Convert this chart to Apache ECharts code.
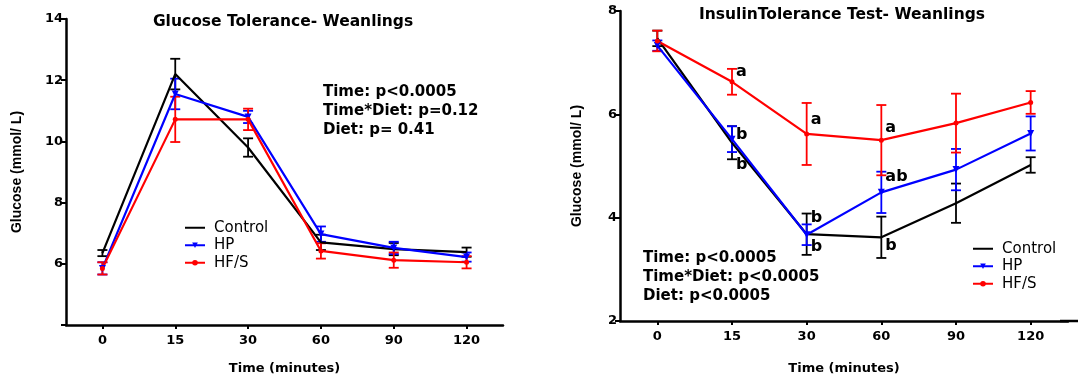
<!DOCTYPE html>
<html lang="en">
<head>
    <meta charset="UTF-8">
    <title>Glucose / Insulin tolerance - weanlings</title>
    <script src="https://cdn.jsdelivr.net/npm/echarts@6/dist/echarts.min.js"></script>
</head>
<body style="margin:0;display:flex;background:#fff;">

<div id="main1" style="width:540px;height:375px;"></div>
<div id="main2" style="width:538px;height:375px;"></div>

<script>
    // time points (minutes)
    const times = ['0', '15', '30', '60', '90', '120'];
    const groups = ['Control', 'HP', 'HF/S'];

    // glucose tolerance, mean and error
    const gttControl = [6.35, 12.2, 9.8, 6.7, 6.48, 6.38];
    const gttControlErr = [0.1, 0.5, 0.3, 0.25, 0.2, 0.15];
    const gttHP = [5.85, 11.55, 10.8, 6.97, 6.52, 6.22];
    const gttHPErr = [0.2, 0.5, 0.2, 0.25, 0.2, 0.15];
    const gttHFS = [5.85, 10.72, 10.72, 6.42, 6.12, 6.05];
    const gttHFSErr = [0.2, 0.74, 0.35, 0.25, 0.25, 0.2];

    // insulin tolerance, mean and error
    const ittControl = [7.47, 5.45, 3.68, 3.62, 4.28, 5.02];
    const ittControlErr = [0.15, 0.32, 0.4, 0.4, 0.38, 0.15];
    const ittHP = [7.33, 5.52, 3.67, 4.49, 4.93, 5.63];
    const ittHPErr = [0.1, 0.25, 0.2, 0.4, 0.4, 0.33];
    const ittHFS = [7.42, 6.63, 5.62, 5.5, 5.83, 6.23];
    const ittHFSErr = [0.2, 0.25, 0.6, 0.68, 0.57, 0.22];

    // significance letters: [time index, glucose, letter]
    const ittLetters = [
        [1, 6.82, 'a'], [2, 5.89, 'a'], [3, 5.74, 'a'],
        [1, 5.6, 'b'], [1, 5.02, 'b'], [3, 4.79, 'ab'],
        [2, 4.0, 'b'], [2, 3.44, 'b'], [3, 3.46, 'b']
    ];

    const gttStats = ['Time: p<0.0005', 'Time*Diet: p=0.12', 'Diet: p= 0.41'];
    const ittStats = ['Time: p<0.0005', 'Time*Diet: p<0.0005', 'Diet: p<0.0005'];

    const colors = ['#000000', '#0000ff', '#ff0000'];
    const FONT = '"DejaVu Sans", Arial, sans-serif';
    const FONT2 = '"Liberation Sans", Arial, sans-serif';

    function errData(mean, err) {
        return mean.map((m, i) => [i, m - err[i], m + err[i]]);
    }

    function errSeries(name, mean, err, color) {
        return {
            name: name + ' err',
            type: 'custom',
            data: errData(mean, err),
            z: 3,
            silent: true,
            renderItem: function (params, api) {
                const x = api.value(0);
                const lo = api.coord([x, api.value(1)]);
                const hi = api.coord([x, api.value(2)]);
                const w = 5;
                const st = {stroke: color, lineWidth: 1.8};
                return {
                    type: 'group',
                    children: [
                        {type: 'line', shape: {x1: lo[0], y1: lo[1], x2: hi[0], y2: hi[1]}, style: st},
                        {type: 'line', shape: {x1: lo[0] - w, y1: lo[1], x2: lo[0] + w, y2: lo[1]}, style: st},
                        {type: 'line', shape: {x1: hi[0] - w, y1: hi[1], x2: hi[0] + w, y2: hi[1]}, style: st}
                    ]
                };
            }
        };
    }

    function lineSeries(name, data, idx) {
        const sym = ['none', 'triangle', 'circle'][idx];
        const size = [0, 7, 5][idx];
        return {
            name: name,
            type: 'line',
            data: data,
            color: colors[idx],
            symbol: sym,
            symbolSize: size,
            symbolRotate: idx == 1 ? 180 : 0,
            showSymbol: idx != 0,
            lineStyle: {width: 2.2, color: colors[idx]},
            itemStyle: {color: colors[idx]},
            z: 4
        };
    }

    function baseOption(cfg) {
        return {
            animation: false,
            textStyle: {fontFamily: FONT},
            title: {
                text: cfg.title,
                left: cfg.titleX,
                top: cfg.titleY,
                textAlign: 'center',
                padding: 0,
                textStyle: {fontFamily: FONT, fontSize: 15.5, fontWeight: 'bold', color: '#000'}
            },
            legend: {
                data: [
                    {name: 'Control', itemStyle: {opacity: 0}},
                    {name: 'HP'},
                    {name: 'HF/S'}
                ],
                orient: 'vertical',
                left: cfg.legendX,
                top: cfg.legendY,
                padding: 0,
                itemWidth: 20,
                itemHeight: 7,
                itemGap: 0,
                textStyle: {fontFamily: FONT, fontSize: 15, lineHeight: 17.5, color: '#000', padding: [0, 0, 0, 4]}
            },
            grid: {
                left: cfg.grid[0], top: cfg.grid[1], width: cfg.grid[2], height: cfg.grid[3],
                outerBoundsMode: 'none'
            },
            xAxis: {
                type: 'category',
                data: times,
                boundaryGap: true,
                name: 'Time (minutes)',
                nameLocation: 'middle',
                nameGap: cfg.xNameGap,
                nameTextStyle: {fontFamily: FONT, fontSize: 13, fontWeight: 'bold', color: '#000'},
                axisLine: {lineStyle: {color: '#000', width: 2.5}},
                axisTick: {show: true, alignWithLabel: true, length: 4, lineStyle: {color: '#000', width: 2}},
                axisLabel: {fontFamily: FONT, fontSize: 13, fontWeight: 'bold', color: '#000', margin: 9},
                splitLine: {show: false}
            },
            yAxis: {
                type: 'value',
                min: cfg.yMin,
                max: cfg.yMax,
                interval: 2,
                name: 'Glucose (mmol/ L)',
                nameLocation: 'middle',
                nameGap: cfg.yNameGap,
                nameTextStyle: {fontFamily: FONT2, fontSize: 14, fontWeight: 'bold', color: '#000'},
                axisLine: {show: true, lineStyle: {color: '#000', width: 2.5}},
                axisTick: {show: true, length: 5, lineStyle: {color: '#000', width: 2}},
                axisLabel: {
                    fontFamily: FONT, fontSize: 13, fontWeight: 'bold', color: '#000', margin: 3,
                    formatter: v => (cfg.hideMin && v == cfg.yMin) ? '' : v
                },
                splitLine: {show: false}
            },
            graphic: [{
                type: 'text',
                left: cfg.statsX,
                top: cfg.statsY,
                style: {
                    text: cfg.stats.join('\n'),
                    font: 'bold 15px ' + FONT,
                    lineHeight: 19,
                    fill: '#000'
                }
            }],
            series: []
        };
    }

    // 糖耐量
    let chart1 = echarts.init(document.getElementById('main1'));
    let option1 = baseOption({
        title: 'Glucose Tolerance- Weanlings', titleX: 283, titleY: 14,
        legendX: 184, legendY: 219,
        grid: [66, 19, 437, 306],
        xNameGap: 37, yNameGap: 42,
        yMin: 4, yMax: 14, hideMin: true,
        statsX: 323, statsY: 83, stats: gttStats
    });
    option1.series = [
        errSeries('Control', gttControl, gttControlErr, colors[0]),
        errSeries('HP', gttHP, gttHPErr, colors[1]),
        errSeries('HF/S', gttHFS, gttHFSErr, colors[2]),
        lineSeries('Control', gttControl, 0),
        lineSeries('HP', gttHP, 1),
        lineSeries('HF/S', gttHFS, 2)
    ];
    chart1.setOption(option1);

    // 胰岛素耐量
    let chart2 = echarts.init(document.getElementById('main2'));
    let option2 = baseOption({
        title: 'InsulinTolerance Test- Weanlings', titleX: 302, titleY: 7,
        legendX: 432, legendY: 240,
        grid: [80, 11, 448, 310],
        xNameGap: 41, yNameGap: 36,
        yMin: 2, yMax: 8, hideMin: false,
        statsX: 103, statsY: 249, stats: ittStats
    });
    // x axis line runs on to the edge of the picture
    option2.graphic.push({
        type: 'rect',
        z: 10,
        shape: {x: 520, y: 319.75, width: 18, height: 2.5},
        style: {fill: '#000'}
    });
    option2.series = [
        errSeries('Control', ittControl, ittControlErr, colors[0]),
        errSeries('HP', ittHP, ittHPErr, colors[1]),
        errSeries('HF/S', ittHFS, ittHFSErr, colors[2]),
        lineSeries('Control', ittControl, 0),
        lineSeries('HP', ittHP, 1),
        lineSeries('HF/S', ittHFS, 2),
        {
            name: 'letters',
            type: 'scatter',
            data: ittLetters,
            symbolSize: 0,
            silent: true,
            z: 6,
            itemStyle: {opacity: 1},
            label: {
                show: true,
                position: 'right',
                distance: 4,
                formatter: p => p.data[2],
                fontFamily: FONT,
                fontSize: 16,
                fontWeight: 'bold',
                color: '#000',
                opacity: 1
            }
        }
    ];
    chart2.setOption(option2);
</script>
</body>
</html>
